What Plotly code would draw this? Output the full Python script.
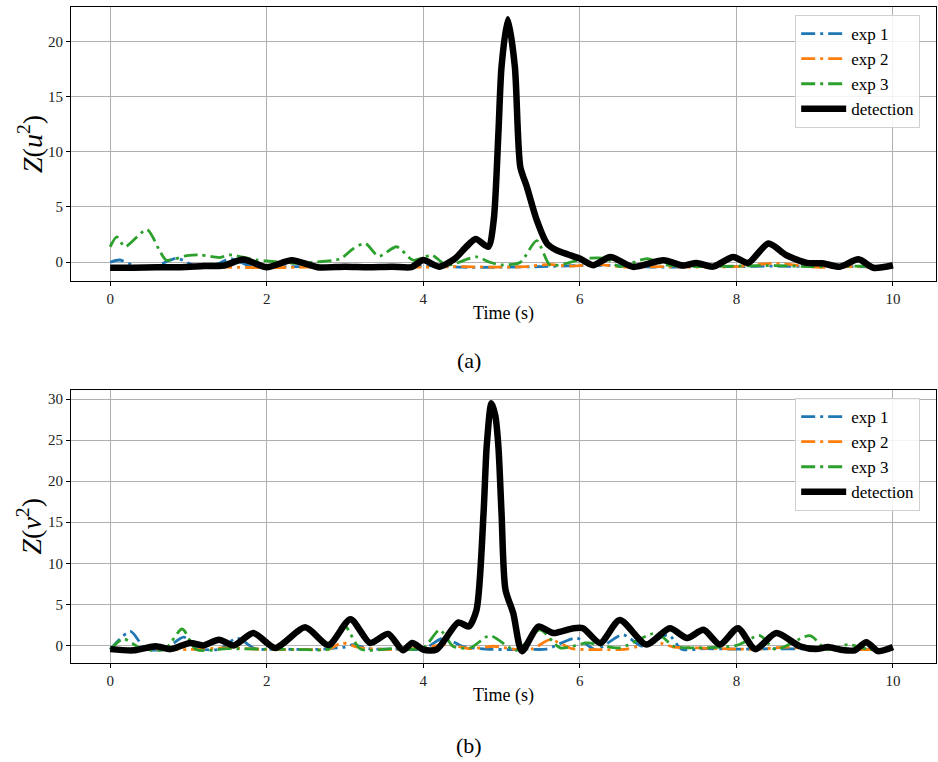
import plotly.graph_objects as go

# ---------------- data ----------------
# Panel (a): Z(u^2)
t_a_det = [0, 0.3, 0.6, 0.9, 1.2, 1.45, 1.7, 2.0, 2.32, 2.65, 3.0, 3.3, 3.6, 3.85, 4.0, 4.2, 4.4, 4.55,
           4.67, 4.83, 4.9, 4.96, 5.0, 5.08, 5.17, 5.24, 5.32, 5.45, 5.58, 5.7, 5.85, 6.0, 6.17, 6.39,
           6.68, 7.07, 7.32, 7.49, 7.7, 7.96, 8.15, 8.41, 8.64, 8.9, 9.1, 9.32, 9.56, 9.75, 10.0]
z_a_det = [-0.5, -0.5, -0.45, -0.45, -0.35, -0.3, 0.25, -0.45, 0.18, -0.45, -0.4, -0.45, -0.4, -0.45,
           0.2, -0.4, 0.3, 1.4, 2.1, 1.4, 3.8, 11.7, 17.7, 22.0, 17.7, 8.6, 6.9, 3.8, 1.7, 1.1, 0.7,
           0.33, -0.27, 0.48, -0.42, 0.18, -0.3, -0.06, -0.4, 0.48, -0.06, 1.7, 0.63, -0.06, -0.1,
           -0.4, 0.27, -0.5, -0.27]

t_a_e1 = [0, 0.12, 0.35, 0.6, 0.85, 1.1, 1.3, 1.55, 1.8, 2.2, 2.8, 3.5, 4.0, 4.5, 5.0, 5.5, 6.0, 6.5,
          7.0, 7.5, 8.0, 8.5, 9.0, 9.5, 10.0]
z_a_e1 = [0.0, 0.2, -0.4, -0.3, 0.35, -0.4, -0.35, 0.3, -0.4, -0.4, -0.4, -0.45, -0.3, -0.45, -0.45,
          -0.4, -0.3, -0.3, -0.45, -0.4, -0.4, -0.35, -0.4, -0.4, -0.45]

t_a_e2 = [0, 0.5, 1, 1.5, 2, 2.5, 3, 3.5, 4, 4.5, 5, 5.3, 5.6, 5.9, 6.2, 6.6, 7, 7.5, 8, 8.5, 9, 9.5, 10]
z_a_e2 = [-0.45, -0.45, -0.45, -0.45, -0.5, -0.45, -0.45, -0.5, -0.45, -0.4, -0.45, -0.4, -0.2, -0.35,
          -0.2, -0.45, -0.4, -0.45, -0.4, -0.1, -0.45, -0.4, -0.5]

t_a_e3 = [0, 0.085, 0.19, 0.47, 0.64, 0.72, 0.98, 1.15, 1.4, 1.53, 1.87, 2.0, 2.34, 2.6, 2.94, 3.1,
          3.26, 3.43, 3.66, 3.87, 4.11, 4.3, 4.68, 4.85, 5.02, 5.24, 5.45, 5.62, 5.83, 6.05, 6.34,
          6.5, 6.86, 7.1, 7.5, 8.0, 8.5, 9.0, 9.5, 10.0]
z_a_e3 = [1.4, 2.3, 1.4, 2.96, 0.93, 0.18, 0.6, 0.66, 0.42, 0.66, 0.2, 0.12, -0.1, 0.0, 0.3, 1.2,
          1.7, 0.54, 1.4, 0.18, 0.63, -0.27, 0.48, 0.0, -0.25, 0.0, 1.95, -0.27, -0.1, 0.33, 0.33,
          -0.4, 0.33, -0.25, -0.4, -0.35, -0.3, -0.4, -0.35, -0.4]

# Panel (b): Z(v^2)
t_b_det = [0, 0.3, 0.58, 0.77, 1.02, 1.19, 1.39, 1.58, 1.83, 2.11, 2.49, 2.79, 3.07, 3.32, 3.55, 3.74,
           3.86, 4.0, 4.17, 4.45, 4.58, 4.68, 4.77, 4.81, 4.87, 4.92, 4.96, 5.0, 5.05, 5.15, 5.26,
           5.47, 5.66, 5.92, 6.04, 6.26, 6.51, 6.85, 7.15, 7.37, 7.58, 7.79, 8.02, 8.24, 8.51, 8.81,
           9.02, 9.17, 9.32, 9.51, 9.66, 9.81, 10.0]
z_b_det = [-0.45, -0.6, -0.1, -0.45, 0.3, 0.0, 0.7, 0.0, 1.5, -0.3, 2.2, 0.05, 3.2, 0.3, 1.4, -0.6,
           0.3, -0.5, -0.5, 2.8, 2.3, 4.3, 16.1, 24.2, 29.5, 28.0, 24.2, 16.1, 6.8, 3.9, -0.7, 2.3,
           1.5, 2.1, 2.1, 0.3, 3.1, 0.1, 2.1, 0.9, 1.9, 0.1, 2.1, -0.45, 1.5, -0.1, -0.45, -0.2,
           -0.5, -0.6, 0.4, -0.7, -0.2]

t_b_e1 = [0, 0.26, 0.45, 0.7, 0.94, 1.15, 1.4, 1.62, 1.85, 2.2, 2.6, 3.0, 3.1, 3.3, 3.7, 4.0, 4.26,
          4.5, 4.8, 5.1, 5.3, 5.57, 5.96, 6.2, 6.55, 6.8, 7.13, 7.3, 7.6, 8.0, 8.5, 9.0, 9.5, 10.0]
z_b_e1 = [-0.5, 1.7, -0.4, -0.45, 1.0, -0.4, -0.45, 0.9, -0.4, -0.45, -0.5, -0.2, 0.1, -0.4, -0.45,
          -0.45, 0.9, -0.1, -0.45, -0.5, -0.45, -0.45, 0.9, -0.5, 1.3, -0.1, 1.3, -0.45, -0.4, -0.45,
          -0.4, -0.45, -0.45, -0.5]

t_b_e2 = [0, 0.5, 1.0, 1.5, 2.0, 2.5, 2.8, 2.96, 3.2, 3.6, 4.0, 4.3, 4.6, 4.9, 5.2, 5.4, 5.62, 5.9,
          6.2, 6.6, 6.97, 7.2, 7.5, 8.0, 8.3, 8.64, 9.0, 9.5, 10.0]
z_b_e2 = [-0.5, -0.45, -0.5, -0.3, -0.5, -0.5, -0.45, 0.3, -0.3, -0.5, -0.3, 0.1, -0.4, -0.1, -0.5,
          -0.4, 0.7, -0.4, -0.5, -0.45, 0.4, -0.2, -0.3, -0.45, -0.45, -0.2, -0.45, -0.5, -0.5]

t_b_e3 = [0, 0.17, 0.4, 0.7, 0.92, 1.1, 1.5, 2.0, 2.5, 2.8, 2.98, 3.2, 3.6, 4.0, 4.21, 4.38, 4.6,
          4.85, 5.19, 5.49, 5.75, 6.1, 6.5, 6.98, 7.2, 7.5, 8.0, 8.3, 8.5, 8.94, 9.15, 9.43, 9.7, 10.0]
z_b_e3 = [-0.5, 0.8, -0.4, -0.45, 2.0, -0.5, -0.4, -0.45, -0.5, -0.4, 2.6, -0.45, -0.4, -0.3, 1.9,
          -0.1, -0.3, 1.2, -0.6, 1.9, -0.3, 0.3, -0.3, 1.5, -0.1, -0.3, 0.0, 1.2, -0.5, 1.2, -0.5,
          0.1, -0.5, -0.5]

series_names = ["exp 1", "exp 2", "exp 3", "detection"]
colors = ["#1f77b4", "#ff7f0e", "#2ca02c", "#000000"]
x_ticks = [0, 2, 4, 6, 8, 10]
y_ticks_a = [0, 5, 10, 15, 20]
y_ticks_b = [0, 5, 10, 15, 20, 25, 30]
captions = ["(a)", "(b)"]

FONT = "Liberation Serif"
W, H = 938, 762

fig = go.Figure()

panels = [
    ([(t_a_e1, z_a_e1), (t_a_e2, z_a_e2), (t_a_e3, z_a_e3), (t_a_det, z_a_det)], "x", "y", "legend"),
    ([(t_b_e1, z_b_e1), (t_b_e2, z_b_e2), (t_b_e3, z_b_e3), (t_b_det, z_b_det)], "x2", "y2", "legend2"),
]
for data, xa, ya, lg in panels:
    for i, (tt, zz) in enumerate(data):
        det = i == 3
        fig.add_trace(go.Scatter(
            x=tt, y=zz, mode="lines", name=series_names[i], xaxis=xa, yaxis=ya, legend=lg,
            line=dict(color=colors[i], width=6.5 if det else 2.8,
                      dash="solid" if det else "14px,5px,3px,5px",
                      shape="spline", smoothing=0.7),
        ))

# pixel geometry
xl, xr = 71, 936
top_a, bot_a = 7, 281
top_b, bot_b = 390, 663


def py(p):
    return 1 - p / H


axis_common = dict(showline=True, mirror=True, linecolor="black", linewidth=1,
                   showgrid=True, gridcolor="#b0b0b0", gridwidth=1, zeroline=False,
                   ticks="outside", ticklen=4, tickcolor="black",
                   tickfont=dict(family=FONT, size=15, color="#222"))

fig.update_layout(
    width=W, height=H, margin=dict(l=0, r=0, t=0, b=0),
    paper_bgcolor="white", plot_bgcolor="white", showlegend=True,
    font=dict(family=FONT, color="black"),
    xaxis=dict(domain=[xl / W, xr / W], range=[-0.5, 10.55], anchor="y", tickvals=x_ticks,
               title=dict(text="Time (s)", font=dict(family=FONT, size=18), standoff=0),
               **axis_common),
    yaxis=dict(domain=[py(bot_a), py(top_a)], range=[-1.7, 23.1], anchor="x", tickvals=y_ticks_a,
               **axis_common),
    xaxis2=dict(domain=[xl / W, xr / W], range=[-0.5, 10.55], anchor="y2", tickvals=x_ticks,
                title=dict(text="Time (s)", font=dict(family=FONT, size=18), standoff=0),
                **axis_common),
    yaxis2=dict(domain=[py(bot_b), py(top_b)], range=[-2.14, 31.1], anchor="x2", tickvals=y_ticks_b,
                **axis_common),
    legend=dict(x=0.981, y=py(15), xanchor="right", yanchor="top",
                bgcolor="rgba(255,255,255,0.85)", bordercolor="#d0d0d0", borderwidth=1,
                font=dict(family=FONT, size=17), tracegroupgap=0, itemwidth=45),
    legend2=dict(x=0.981, y=py(398), xanchor="right", yanchor="top",
                 bgcolor="rgba(255,255,255,0.85)", bordercolor="#d0d0d0", borderwidth=1,
                 font=dict(family=FONT, size=17), tracegroupgap=0, itemwidth=45),
)

annotations = [
    dict(text="<i>Z</i>(<i>u</i><sup>2</sup>)", x=30 / W, y=py((top_a + bot_a) / 2),
         xref="paper", yref="paper", showarrow=False, textangle=-90,
         xanchor="center", yanchor="middle", font=dict(family=FONT, size=28)),
    dict(text="<i>Z</i>(<i>v</i><sup>2</sup>)", x=30 / W, y=py((top_b + bot_b) / 2),
         xref="paper", yref="paper", showarrow=False, textangle=-90,
         xanchor="center", yanchor="middle", font=dict(family=FONT, size=28)),
    dict(text=captions[0], x=469 / W, y=py(360), xref="paper", yref="paper", showarrow=False,
         xanchor="center", yanchor="middle", font=dict(family=FONT, size=22)),
    dict(text=captions[1], x=469 / W, y=py(745), xref="paper", yref="paper", showarrow=False,
         xanchor="center", yanchor="middle", font=dict(family=FONT, size=22)),
]
fig.update_layout(annotations=annotations)

fig.write_html("out.html")
